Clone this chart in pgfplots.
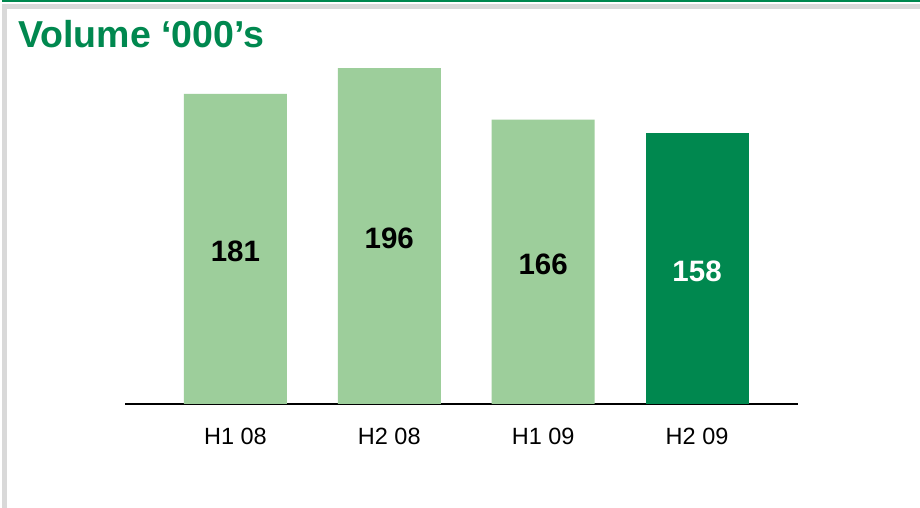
\documentclass[border=0pt]{standalone}
\usepackage{fontspec}
\setmainfont{Liberation Sans}
\usepackage{pgfplots}
\pgfplotsset{compat=1.18}
\definecolor{lgreen}{HTML}{9DCE9B}
\definecolor{dgreen}{HTML}{00884F}
\definecolor{lgrey}{HTML}{D9D9D9}
\begin{document}
\begin{tikzpicture}
\useasboundingbox (0,0) rectangle (920pt,508pt);
\fill[white] (0,0) rectangle (920pt,508pt);
\fill[dgreen] (2pt,505.5pt) rectangle (920pt,508pt);
\fill[lgrey] (2pt,498.5pt) rectangle (920pt,503.5pt);
\fill[lgrey] (2pt,0pt) rectangle (7pt,503.5pt);
\node[anchor=base west, inner sep=0pt, text=dgreen, font=\fontsize{37.5}{37.5}\selectfont\bfseries] at (18pt,460pt) {Volume ‘000’s};
\begin{axis}[
  at={(125pt,104pt)}, anchor=south west,
  scale only axis, width=673pt, height=377pt,
  xmin=-0.7175, xmax=3.656, ymin=0, ymax=220,
  enlargelimits=false,
  axis x line*=bottom, hide y axis,
  axis line style={line width=2pt, black, -},
  xtick={0,1,2,3}, xticklabels={H1 08,H2 08,H1 09,H2 09},
  major tick length=0pt,
  xticklabel style={anchor=base, yshift=-41pt, font=\fontsize{23.5}{23.5}\selectfont},
  ybar, bar width=103pt, bar shift=0pt,
  /pgf/number format/assume math mode=true,
  nodes near coords,
  visualization depends on={rawy \as \rawy},
  nodes near coords style={anchor=center, font=\fontsize{29.5}{29.5}\selectfont\bfseries,
     shift={(axis direction cs:0,-0.5*\rawy)}, yshift=-2.5pt},
  clip=false,
]
\addplot[draw=none, fill=lgreen, nodes near coords style={text=black}] coordinates {(0,181) (1,196) (2,166)};
\addplot[draw=none, fill=dgreen, nodes near coords style={text=white}] coordinates {(3,158)};
\end{axis}
\end{tikzpicture}
\end{document}
